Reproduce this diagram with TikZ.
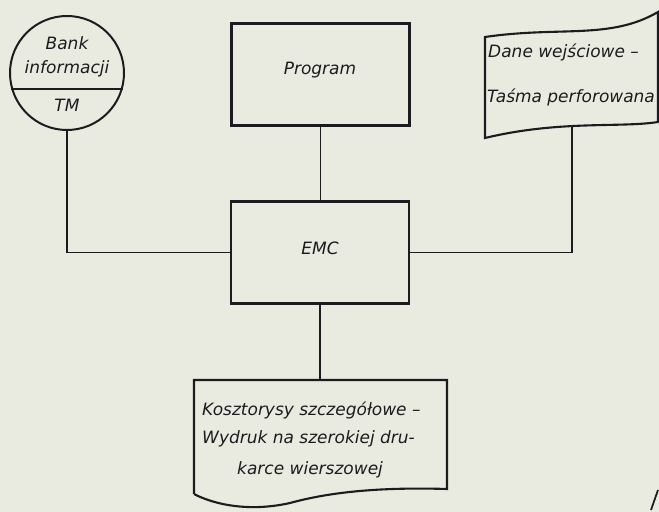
\documentclass[tikz,border=0pt]{standalone}
\usepackage{fontspec}
\setsansfont{DejaVu Sans}
\usetikzlibrary{positioning}
\definecolor{paper}{RGB}{233,234,224}
\definecolor{ink}{RGB}{28,28,32}
\tikzset{
  blok/.style={draw=ink, line width=1.8pt, minimum width=5.34cm, minimum height=3.06cm},
  napis/.style={font=\sffamily\itshape\fontsize{14.5}{16}\selectfont, text=ink, inner sep=0pt},
  linia/.style={draw=ink, line width=1.5pt},
}
\begin{document}
\begin{tikzpicture}[x=0.03cm,y=-0.03cm]
    \fill [paper] (0,0) rectangle (659,512);
    \useasboundingbox (0,0) rectangle (659,512);
    % bank informacji
    \node [circle,draw=ink,line width=1.7pt,minimum size=3.42cm] (bank) at (67,73) {};
    \draw [ink,line width=2pt] (bank.196) -- (bank.-16);
    \node [napis] (bank-1) at (67,43) {Bank};
    \node [napis] (bank-2) at (67,69) {informacji};
    \node [napis] (bank-tm) at (67,105) {TM};
    % program i EMC
    \node [blok] (program) at (320.5,74.5) {};
    \node [napis] (program-txt) at (320,70) {Program};
    \node [blok] (emc) at (320,252.5) {};
    \node [napis] (emc-txt) at (320,248) {EMC};
    % tasma perforowana
    \draw [ink,line width=1.8pt] (485,37) .. controls (560,26) and (610,40) .. (658,12) -- (658,122)
        .. controls (620,128) and (560,120) .. (485,138) -- cycle;
    \node [napis,anchor=west] (tasma-1) at (488,52) {Dane wejściowe –};
    \node [napis,anchor=west] (tasma-2) at (487,97) {Taśma perforowana};
    \coordinate (tasma-out) at (572,125);
    % wydruk
    \draw [ink,line width=1.8pt] (194,494) -- (194,380) -- (447,380) -- (447,489)
        .. controls (380,487) and (330,492) .. (290,503) .. controls (250,512) and (215,505) .. (194,494);
    \node [napis,anchor=west] (wydruk-1) at (202,410) {Kosztorysy szczegółowe –};
    \node [napis,anchor=west] (wydruk-2) at (202,439) {Wydruk na szerokiej dru-};
    \node [napis,anchor=west] (wydruk-3) at (237,470) {karce wierszowej};
    \coordinate (wydruk-in) at (320,380);
    % polaczenia
    \draw [linia] (bank.south) |- (emc.west);
    \draw [linia] (program.south) -- (program.south |- emc.north);
    \draw [linia] (tasma-out) |- (emc.east);
    \draw [linia] (emc.south) -- (wydruk-in);
    \draw [ink,line width=1.5pt] (651,510) -- (658,490);
\end{tikzpicture}
\end{document}
